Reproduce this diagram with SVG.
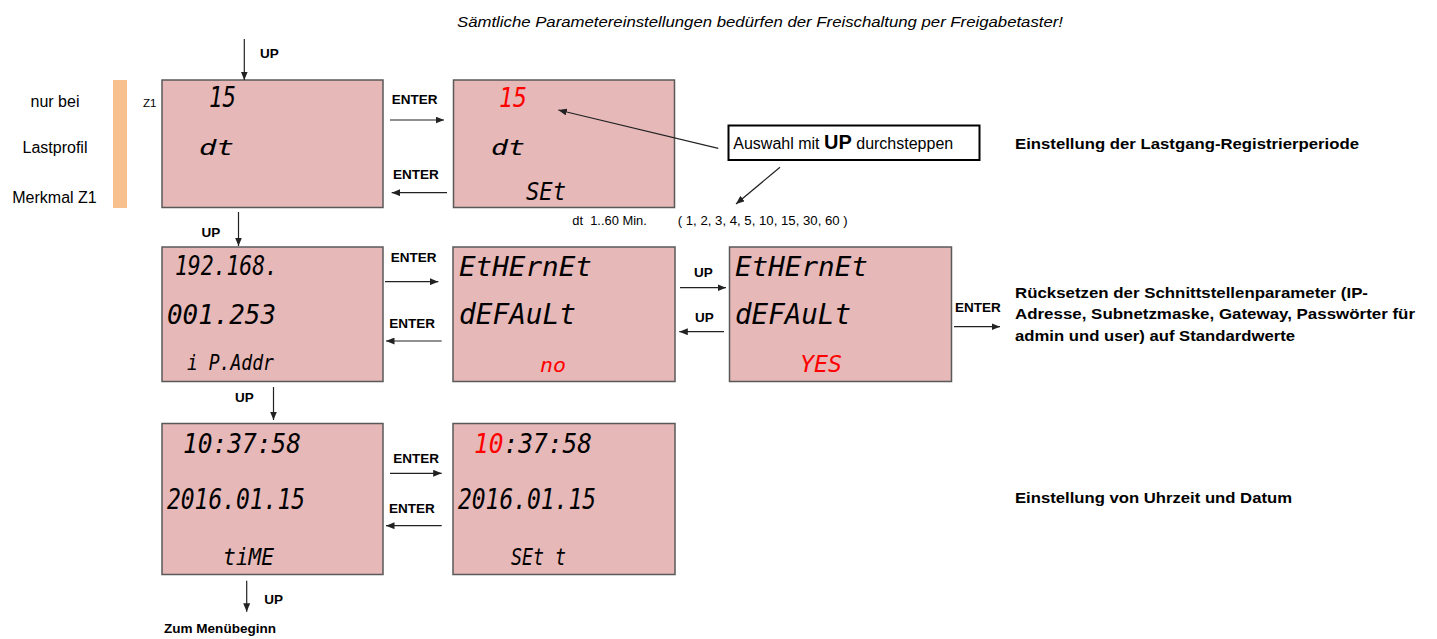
<svg xmlns="http://www.w3.org/2000/svg" width="1437" height="639" viewBox="0 0 1437 639">
<style>
.box{fill:#E6B8B8;stroke:#595959;stroke-width:1.5}
.seg{font-family:"DejaVu Sans Mono",monospace;font-style:italic;fill:#000}
.red{fill:#FF0000}
.lbl{font-family:"Liberation Sans",Arial,sans-serif;font-weight:bold;font-size:13.5px;fill:#000}
.txt{font-family:"Liberation Sans",Arial,sans-serif;font-size:16px;fill:#000}
.desc{font-family:"Liberation Sans",Arial,sans-serif;font-weight:bold;font-size:15.5px;fill:#000}
.small{font-family:"Liberation Sans",Arial,sans-serif;font-size:12.5px;fill:#000}
.conn line{stroke:#222;stroke-width:1.2;marker-end:url(#ah)}
</style>
<defs>
<marker id="ah" markerUnits="userSpaceOnUse" markerWidth="9" markerHeight="7" refX="8.5" refY="3.5" orient="auto">
<path d="M0,0 L8.5,3.5 L0,7 z" fill="#222"/>
</marker>
</defs>
<rect width="1437" height="639" fill="#fff"/>

<text x="457" y="27" font-family="Liberation Sans,Arial,sans-serif" font-style="italic" font-size="14.5" textLength="606" lengthAdjust="spacingAndGlyphs">Sämtliche Parametereinstellungen bedürfen der Freischaltung per Freigabetaster!</text>

<g id="side-note">
<rect x="113" y="80" width="14" height="128" fill="#F9C08F"/>
<text class="txt" x="55" y="107" text-anchor="middle">nur bei</text>
<text class="txt" x="55" y="153" text-anchor="middle">Lastprofil</text>
<text class="txt" x="54.5" y="203" text-anchor="middle">Merkmal Z1</text>
<text x="143" y="107.3" font-family="Liberation Sans,Arial,sans-serif" font-size="11.5">Z1</text>
</g>

<g id="box1">
<rect class="box" x="162" y="80" width="221" height="127.5"/>
<text class="seg" x="209" y="107.3" font-size="28" textLength="27" lengthAdjust="spacingAndGlyphs">15</text>
<text class="seg" x="199" y="154.7" font-size="22" textLength="35" lengthAdjust="spacingAndGlyphs">dt</text>
</g>

<g id="box2">
<rect class="box" x="453.5" y="80" width="221" height="127.5"/>
<text class="seg red" x="499" y="107.3" font-size="27" textLength="28" lengthAdjust="spacingAndGlyphs">15</text>
<text class="seg" x="491" y="155" font-size="21.5" textLength="34" lengthAdjust="spacingAndGlyphs">dt</text>
<text class="seg" x="526" y="200" font-size="25" textLength="40" lengthAdjust="spacingAndGlyphs">SEt</text>
</g>

<g id="callout">
<rect x="728.5" y="125.5" width="251" height="34.5" fill="#fff" stroke="#000" stroke-width="2"/>
<text class="txt" x="733.3" y="149.3">Auswahl mit <tspan font-weight="bold" font-size="20">UP</tspan> durchsteppen</text>
</g>

<text class="small" x="572.3" y="225" xml:space="preserve" textLength="74.5" lengthAdjust="spacingAndGlyphs">dt  1..60 Min.</text>
<text class="small" x="677.7" y="225" textLength="170" lengthAdjust="spacingAndGlyphs">( 1, 2, 3, 4, 5, 10, 15, 30, 60 )</text>

<g id="box3">
<rect class="box" x="162" y="247" width="221" height="134.5"/>
<text class="seg" x="175" y="275" font-size="26" textLength="103" lengthAdjust="spacingAndGlyphs">192.168.</text>
<text class="seg" x="167" y="324.3" font-size="26.5" textLength="109" lengthAdjust="spacingAndGlyphs">001.253</text>
<text class="seg" x="187" y="370" font-size="21" textLength="87" lengthAdjust="spacingAndGlyphs">i P.Addr</text>
</g>

<g id="box4">
<rect class="box" x="453" y="247" width="222" height="134.5"/>
<text class="seg" x="459" y="276" font-size="27" textLength="133" lengthAdjust="spacingAndGlyphs">EtHErnEt</text>
<text class="seg" x="459" y="324.3" font-size="28" textLength="117" lengthAdjust="spacingAndGlyphs">dEFAuLt</text>
<text class="seg red" x="540" y="371.7" font-size="19" textLength="26" lengthAdjust="spacingAndGlyphs">no</text>
</g>

<g id="box5">
<rect class="box" x="729.5" y="247" width="222" height="134.5"/>
<text class="seg" x="735" y="276" font-size="27" textLength="133" lengthAdjust="spacingAndGlyphs">EtHErnEt</text>
<text class="seg" x="735" y="324.3" font-size="28" textLength="116" lengthAdjust="spacingAndGlyphs">dEFAuLt</text>
<text class="seg red" x="800" y="371.7" font-size="23" textLength="42" lengthAdjust="spacingAndGlyphs">YES</text>
</g>

<g id="box6">
<rect class="box" x="162" y="423.5" width="221" height="151"/>
<text class="seg" x="183" y="452.7" font-size="26.5" textLength="118" lengthAdjust="spacingAndGlyphs">10:37:58</text>
<text class="seg" x="167" y="509.3" font-size="28.5" textLength="138" lengthAdjust="spacingAndGlyphs">2016.01.15</text>
<text class="seg" x="223" y="565" font-size="23" textLength="51" lengthAdjust="spacingAndGlyphs">tiME</text>
</g>

<g id="box7">
<rect class="box" x="453" y="423.5" width="222" height="151"/>
<text class="seg" x="474" y="452.7" font-size="26.5" textLength="118" lengthAdjust="spacingAndGlyphs"><tspan class="red">10</tspan>:37:58</text>
<text class="seg" x="458" y="509.3" font-size="28.5" textLength="138" lengthAdjust="spacingAndGlyphs">2016.01.15</text>
<text class="seg" x="511" y="565" font-size="23" textLength="55" lengthAdjust="spacingAndGlyphs">SEt t</text>
</g>

<g id="descriptions">
<text class="desc" x="1015" y="149.3" textLength="344" lengthAdjust="spacingAndGlyphs">Einstellung der Lastgang-Registrierperiode</text>
<text class="desc" x="1015" y="297.7" textLength="353" lengthAdjust="spacingAndGlyphs">Rücksetzen der Schnittstellenparameter (IP-</text>
<text class="desc" x="1015" y="319.3" textLength="400" lengthAdjust="spacingAndGlyphs">Adresse, Subnetzmaske, Gateway, Passwörter für</text>
<text class="desc" x="1015" y="341" textLength="280" lengthAdjust="spacingAndGlyphs">admin und user) auf Standardwerte</text>
<text class="desc" x="1015" y="503.3" textLength="277" lengthAdjust="spacingAndGlyphs">Einstellung von Uhrzeit und Datum</text>
</g>

<g id="connectors" class="conn">
<line x1="244.3" y1="39" x2="244.3" y2="80"/>
<line x1="390" y1="120" x2="444" y2="120"/>
<line x1="447" y1="192.7" x2="391.7" y2="192.7"/>
<line x1="238.5" y1="212" x2="238.5" y2="246"/>
<line x1="718.3" y1="148.3" x2="558.3" y2="110"/>
<line x1="780" y1="167.3" x2="736" y2="204"/>
<line x1="385" y1="281.7" x2="438.3" y2="281.7"/>
<line x1="441.7" y1="341" x2="386" y2="341"/>
<line x1="680" y1="287.7" x2="726" y2="287.7"/>
<line x1="724" y1="331.7" x2="679.3" y2="331.7"/>
<line x1="954" y1="326.7" x2="1000" y2="326.7"/>
<line x1="273.5" y1="387" x2="273.5" y2="420"/>
<line x1="390" y1="473.3" x2="441.7" y2="473.3"/>
<line x1="441.7" y1="525.7" x2="386" y2="525.7"/>
<line x1="246.7" y1="580.7" x2="246.7" y2="611.7"/>
</g>

<g id="connector-labels">
<text class="lbl" x="260" y="57.5" font-size="13">UP</text>
<text class="lbl" x="391.7" y="104.3">ENTER</text>
<text class="lbl" x="393" y="179">ENTER</text>
<text class="lbl" x="201.5" y="237" font-size="13">UP</text>
<text class="lbl" x="390.7" y="261.7">ENTER</text>
<text class="lbl" x="389.3" y="328.3">ENTER</text>
<text class="lbl" x="694" y="276.7" font-size="13">UP</text>
<text class="lbl" x="695" y="322.3" font-size="13">UP</text>
<text class="lbl" x="955" y="312.3">ENTER</text>
<text class="lbl" x="235" y="401.7" font-size="13">UP</text>
<text class="lbl" x="393.3" y="463.3">ENTER</text>
<text class="lbl" x="389" y="513.3">ENTER</text>
<text class="lbl" x="264.3" y="604" font-size="13">UP</text>
<text class="lbl" x="164" y="633.3" textLength="112" lengthAdjust="spacingAndGlyphs">Zum Menübeginn</text>
</g>
</svg>
